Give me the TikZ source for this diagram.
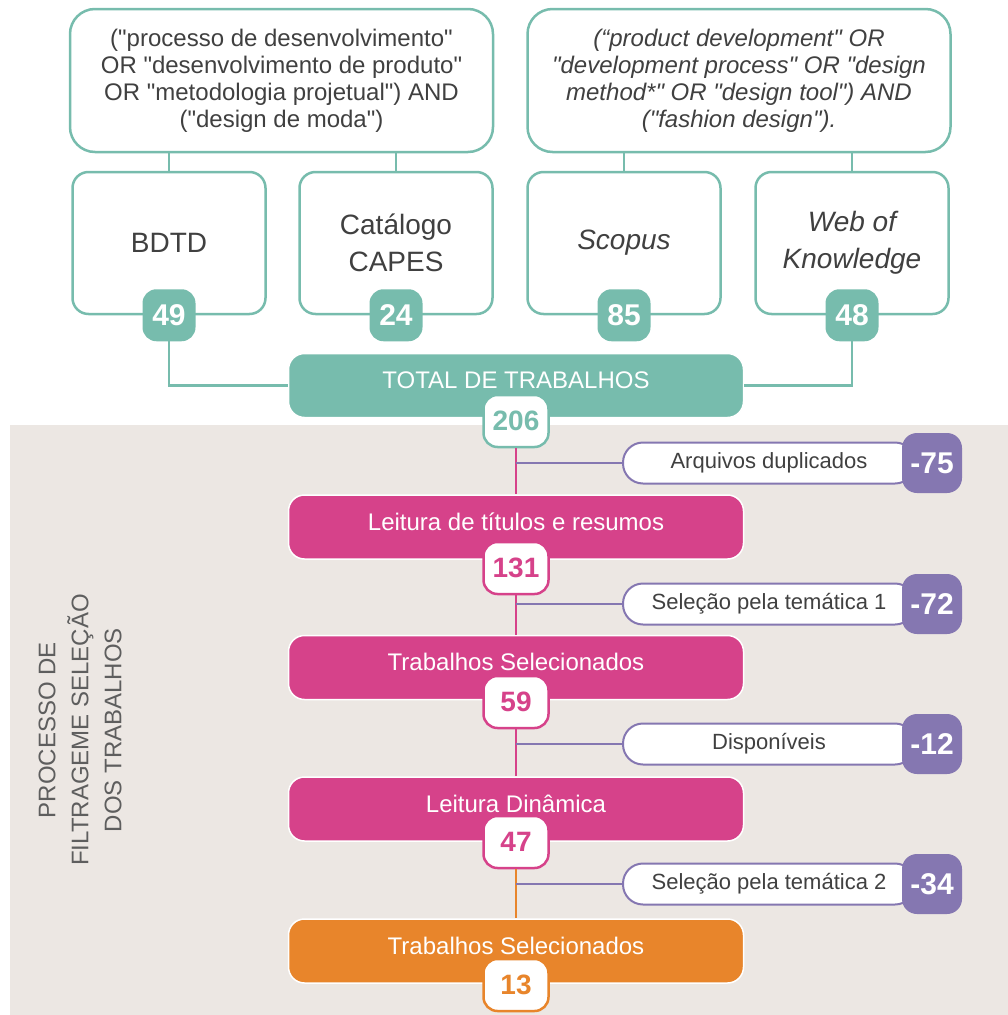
\documentclass[tikz,border=0pt]{standalone}
\usepackage{fontspec}
\setmainfont{Liberation Sans}[Ligatures=TeXOff]
\definecolor{tealc}{HTML}{77BCAD}
\definecolor{pinkc}{HTML}{D6428A}
\definecolor{orangec}{HTML}{E8852B}
\definecolor{purplec}{HTML}{8577B1}
\definecolor{bggray}{HTML}{ECE7E3}
\definecolor{txt}{HTML}{404040}
\definecolor{sidetxt}{HTML}{5E5E5E}
\begin{document}
\begin{tikzpicture}[x=1pt,y=-1pt,
	query/.style={draw=tealc,fill=white,line width=2.5pt,rounded corners=25pt,minimum width=423pt,minimum height=143pt,align=center,text=txt,font=\fontsize{24}{27}\selectfont},
	source/.style={draw=tealc,fill=white,line width=2.5pt,rounded corners=16pt,minimum width=193pt,minimum height=142pt,align=center,text=txt,font=\fontsize{28}{37}\selectfont},
	srccount/.style={fill=tealc,rounded corners=14pt,minimum width=53pt,minimum height=52pt,inner sep=0pt,text=white,font=\bfseries\fontsize{30}{30}\selectfont},
	stepbox/.style={fill=#1,draw=white,line width=1.5pt,rounded corners=16pt,minimum width=455pt,minimum height=64pt,inner sep=0pt,text height=18pt,text depth=12pt,text=white,font=\fontsize{24}{28}\selectfont},
	count/.style={fill=white,draw=#1,line width=2.5pt,rounded corners=14pt,minimum width=65pt,minimum height=52pt,inner sep=0pt,text=#1,font=\bfseries\fontsize{28}{28}\selectfont},
	pill/.style={draw=purplec,fill=white,line width=2pt,rounded corners=20pt,minimum width=292pt,minimum height=41pt,inner sep=0pt,text=txt,font=\fontsize{22}{26}\selectfont},
	minus/.style={fill=purplec,rounded corners=15pt,minimum width=60pt,minimum height=60pt,inner sep=0pt,text=white,font=\bfseries\fontsize{30}{30}\selectfont},
	tline/.style={draw=tealc,line width=2.5pt},
	vline/.style={draw=#1,line width=2pt},
	branch/.style={draw=purplec,line width=2.5pt}]
	\useasboundingbox (0,0) rectangle (1008,1015);
	\fill[bggray] (10,425) rectangle (1008,1015);
	% search strings
	\node[query] (q1) at (281.5,80.5) {("processo de desenvolvimento"\\OR "desenvolvimento de produto"\\OR "metodologia projetual") AND\\("design de moda")};
	\node[query,font=\itshape\fontsize{24}{27}\selectfont] (q2) at (739,80.5) {(“product development" OR\\"development process" OR "design\\method*" OR "design tool") AND\\("fashion design").};
	% databases
	\node[source] (src1) at (169,243) {BDTD};
	\node[source] (src2) at (396,243) {Catálogo\\CAPES};
	\node[source,font=\itshape\fontsize{28}{37}\selectfont] (src3) at (624,243) {Scopus};
	\node[source,font=\itshape\fontsize{28}{37}\selectfont] (src4) at (852,243) {Web of\\Knowledge};
	\foreach \s in {1,2}{
		\draw[tline] (src\s.north |- q1.south) -- (src\s.north);}
	\foreach \s in {3,4}{
		\draw[tline] (src\s.north |- q2.south) -- (src\s.north);}
	\node[srccount] (n1) at (src1.south) {49};
	\node[srccount] (n2) at (src2.south) {24};
	\node[srccount] (n3) at (src3.south) {85};
	\node[srccount] (n4) at (src4.south) {48};
	% total
	\node[stepbox=tealc] (total) at (516,385.5) {TOTAL DE TRABALHOS};
	\draw[tline] (n1.south) |- (total.west);
	\draw[tline] (n4.south) |- (total.east);
	% filtering steps
	\node[stepbox=pinkc] (s1) at (516,527) {Leitura de títulos e resumos};
	\node[stepbox=pinkc] (s2) at (516,667.5) {Trabalhos Selecionados};
	\node[stepbox=pinkc] (s3) at (516,809) {Leitura Dinâmica};
	\node[stepbox=orangec] (s4) at (516,951) {Trabalhos Selecionados};
	\node[count=tealc] (c0) at (516,421) {206};
	\node[count=pinkc] (c1) at (516,568) {131};
	\node[count=pinkc] (c2) at (516,702) {59};
	\node[count=pinkc] (c3) at (516,842) {47};
	\node[count=orangec] (c4) at (516,985) {13};
	\draw[vline=pinkc] (c0) -- (s1);
	\draw[vline=pinkc] (c1) -- (s2);
	\draw[vline=pinkc] (c2) -- (s3);
	\draw[vline=orangec] (c3) -- (s4);
	% removed items
	\node[pill] (p1) at (769,463) {Arquivos duplicados};
	\node[pill] (p2) at (769,604) {Seleção pela temática 1};
	\node[pill] (p3) at (769,744) {Disponíveis};
	\node[pill] (p4) at (769,884) {Seleção pela temática 2};
	\node[minus] (m1) at (932,463) {-75};
	\node[minus] (m2) at (932,604) {-72};
	\node[minus] (m3) at (932,744) {-12};
	\node[minus] (m4) at (932,884) {-34};
	\foreach \p in {1,...,4}{
		\draw[branch] (p\p.west) -- (p\p.west -| c0.south);}
	% side title
	\node[rotate=90,align=center,text=sidetxt,font=\fontsize{24}{33}\selectfont] (side) at (80,730) {PROCESSO DE\\FILTRAGEME SELEÇÃO\\DOS TRABALHOS};
\end{tikzpicture}
\end{document}
